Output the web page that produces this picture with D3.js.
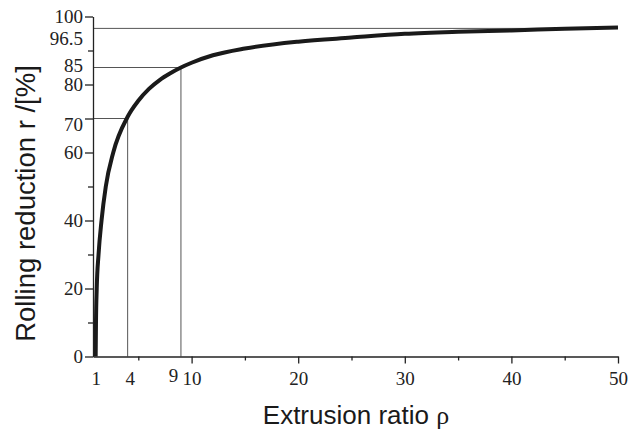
<!DOCTYPE html>
<html lang="en">
<head>
<meta charset="utf-8">
<title>Rolling reduction vs extrusion ratio</title>
<script src="https://d3js.org/d3.v7.min.js"></script>
<style>
body{
  margin: 0;
  background: #fff;
}
.axis path, .axis line{
  fill: none;
  stroke: #222;
  stroke-width: 1.3px;
}
.axis text{
  font: 19px "Liberation Serif", "Times New Roman", serif;
  fill: #222;
}
.title{
  font: 26px "Liberation Sans", Arial, sans-serif;
  fill: #1a1a1a;
}
</style>
</head>
<body>
<svg id="chart" width="631" height="430"></svg>
<script>
  // extrusion ratio rho vs rolling reduction r [%]
  var rho = [1, 1.03, 1.1, 1.27, 1.55, 1.95, 2.65, 4, 5, 6, 7, 8, 9, 10, 12, 15, 20, 25, 30, 35, 40, 45, 50];
  var reduction = [0, 10, 20, 30, 40, 50, 60, 70.5, 75.2, 78.7, 81.3, 83.3, 85, 86.4, 88.6, 90.6, 92.6, 93.8, 94.9, 95.5, 95.9, 96.4, 96.8];

  // guide lines: [rho, r]
  var guideRho = [4, 9, 50];
  var guideR = [70, 85, 96.5];

  var xMajor = [10, 20, 30, 40, 50];
  var xMinor = [5, 15, 25, 35, 45];
  var xExtraLabels = [1, 4, 9];
  var yLabels = [0, 20, 40, 60, 70, 80, 85, 96.5, 100];
  var yMinor = [10, 30, 50, 90];

  var svg = d3.select('svg');

  var x = d3.scaleLinear().domain([0.75, 50]).range([93, 618]);
  var y = d3.scaleLinear().domain([0, 100]).range([356.5, 16.5]);

  // guide lines
  var guides = guideRho.map(function(d, i) { return {p: d, r: guideR[i]}; });
  var g = svg.append('g').attr('stroke', '#555').attr('stroke-width', 1);
  guides.forEach(function(d) {
    g.append('line')
      .attr('x1', x(0.75)).attr('x2', x(d.p))
      .attr('y1', y(d.r)).attr('y2', y(d.r));
    if (d.p < 50) {
      g.append('line')
        .attr('x1', x(d.p)).attr('x2', x(d.p))
        .attr('y1', y(0)).attr('y2', y(d.r));
    }
  });

  // x axis: major ticks + labels
  var xAxis = svg.append('g')
    .attr('class', 'axis')
    .attr('transform', 'translate(0,' + y(0) + ')')
    .call(d3.axisBottom(x)
      .tickValues(xExtraLabels.concat(xMajor))
      .tickSize(7).tickSizeOuter(0)
      .tickFormat(d3.format('d')));
  xAxis.selectAll('.tick line')
    .attr('y2', function(d) { return xExtraLabels.indexOf(d) >= 0 ? 0 : 7; });
  xAxis.selectAll('.tick text')
    .attr('dx', function(d) { return d === 9 ? -8 : d === 4 ? 2 : 0; })
    .attr('y', function(d) { return d === 9 ? 12 : 15; });

  svg.append('g')
    .attr('class', 'axis')
    .attr('transform', 'translate(0,' + y(0) + ')')
    .call(d3.axisBottom(x).tickValues(xMinor).tickSize(4).tickSizeOuter(0).tickFormat(''))
    .select('.domain').remove();

  // y axis
  var yOffsets = {70: 6, 85: -2, 96.5: 10};
  var yAxis = svg.append('g')
    .attr('class', 'axis')
    .attr('transform', 'translate(' + x(0.75) + ',0)')
    .call(d3.axisLeft(y)
      .tickValues(yLabels)
      .tickSize(8).tickSizeOuter(0)
      .tickPadding(2)
      .tickFormat(function(d) { return d; }));
  yAxis.selectAll('.tick line')
    .attr('x2', function(d) { return d === 96.5 || d === 85 ? 0 : -8; });
  yAxis.selectAll('.tick text')
    .attr('y', function(d) { return yOffsets[d] || 0; });

  svg.append('g')
    .attr('class', 'axis')
    .attr('transform', 'translate(' + x(0.75) + ',0)')
    .call(d3.axisLeft(y).tickValues(yMinor).tickSize(5).tickSizeOuter(0).tickFormat(''))
    .select('.domain').remove();

  // curve
  var pts = rho.map(function(d, i) { return [d, reduction[i]]; });
  var line = d3.line()
    .x(function(d) { return x(d[0]); })
    .y(function(d) { return y(d[1]); })
    .curve(d3.curveMonotoneX);

  svg.append('path')
    .datum(pts)
    .attr('d', line)
    .attr('fill', 'none')
    .attr('stroke', '#1a1a1a')
    .attr('stroke-width', 4);

  // axis titles
  var xt = svg.append('text')
    .attr('class', 'title')
    .attr('x', 356)
    .attr('y', 424)
    .attr('text-anchor', 'middle')
    .text('Extrusion ratio ');
  xt.append('tspan')
    .style('font-family', '"Liberation Serif", serif')
    .text('ρ');

  svg.append('text')
    .attr('class', 'title')
    .attr('transform', 'translate(35,203.5) rotate(-90)')
    .attr('text-anchor', 'middle')
    .style('font-size', '27.5px')
    .text('Rolling reduction r /[%]');
</script>
</body>
</html>
